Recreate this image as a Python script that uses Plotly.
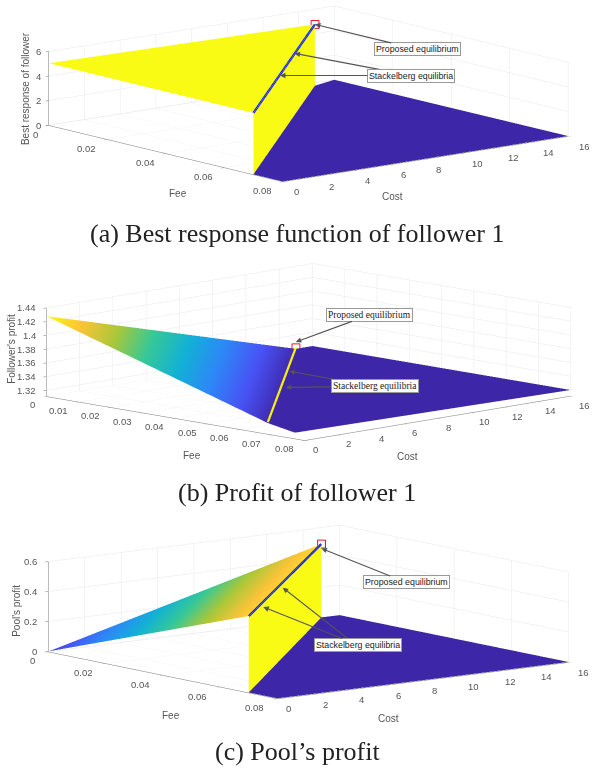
import math
import plotly.graph_objects as go

W, H = 603, 768

PARULA = [[0.0, "rgb(62,38,168)"], [1/7, "rgb(72,82,244)"], [2/7, "rgb(46,135,247)"],
          [3/7, "rgb(18,177,214)"], [4/7, "rgb(55,200,151)"], [5/7, "rgb(171,199,57)"],
          [6/7, "rgb(254,195,56)"], [1.0, "rgb(249,251,21)"]]

# (a) best response
a_fee_ticks = [0, 0.02, 0.04, 0.06, 0.08]
a_fee_text = ["0", "0.02", "0.04", "0.06", "0.08"]
cost_ticks = [0, 2, 4, 6, 8, 10, 12, 14, 16]
cost_text = ["0", "2", "4", "6", "8", "10", "12", "14", "16"]
a_z_ticks = [0, 2, 4, 6]
a_z_text = ["0", "2", "4", "6"]
a_plane_fee = [0, 0.07, 0.0025]
a_plane_cost = [0, 0, 14.5]
a_plane_z = [5.04, 5.0, 5.0]
a_plane_c = [1, 1, 1]
a_floor_fee = [0.07, 0.08, 0.08, 0, 0.0025]
a_floor_cost = [0, 0, 16, 16, 14.5]
a_line_fee = [0.07, 0.0025]
a_line_cost = [0, 14.5]
a_line_z = [5.0, 5.0]

# (b) follower profit
b_fee_ticks = [0, 0.01, 0.02, 0.03, 0.04, 0.05, 0.06, 0.07, 0.08]
b_fee_text = ["0", "0.01", "0.02", "0.03", "0.04", "0.05", "0.06", "0.07", "0.08"]
b_z_ticks = [1.32, 1.34, 1.36, 1.38, 1.4, 1.42, 1.44]
b_z_text = ["1.32", "1.34", "1.36", "1.38", "1.4", "1.42", "1.44"]
b_plane_fee = [0, 0.064, 0]
b_plane_cost = [0, 0.9, 15]
b_plane_z = [1.428, 1.32, 1.32]
b_plane_c = [1, 0.02, 0.02]
b_floor_fee = [0.064, 0.077, 0.08, 0, 0]
b_floor_cost = [0.9, 0, 16, 16, 15]
b_floor_z = [1.32, 1.32, 1.32, 1.32, 1.32]
b_line_fee = [0.064, 0]
b_line_cost = [0.9, 15]
b_line_z = [1.3215, 1.3215]

# (c) pool profit
c_fee_ticks = [0, 0.02, 0.04, 0.06, 0.08]
c_z_ticks = [0, 0.2, 0.4, 0.6]
c_z_text = ["0", "0.2", "0.4", "0.6"]
c_plane_fee = [0, 0.07, 0]
c_plane_cost = [0, 0, 15]
c_plane_z = [0, 0.51, 0.49]
c_plane_c = [0.08, 0.9, 0.92]
c_floor_fee = [0.07, 0.08, 0.08, 0, 0]
c_floor_cost = [0, 0, 16, 16, 15]
c_line_fee = [0.07, 0]
c_line_cost = [0, 15]
c_line_z = [0.51, 0.49]


def eye(az, el, r):
    a, e = math.radians(az), math.radians(el)
    return dict(x=r*math.cos(a)*math.cos(e), y=r*math.sin(a)*math.cos(e), z=r*math.sin(e))


def mesh(scene, x, y, z, c, i, j, k):
    return go.Mesh3d(scene=scene, x=x, y=y, z=z, i=i, j=j, k=k, intensity=c, cmin=0, cmax=1,
                     colorscale=PARULA, showscale=False, flatshading=False, hoverinfo="skip",
                     lighting=dict(ambient=1, diffuse=0, specular=0, fresnel=0, roughness=1))


def line(scene, x, y, z, color):
    return go.Scatter3d(scene=scene, x=x, y=y, z=z, mode="lines", line=dict(color=color, width=4.5),
                        hoverinfo="skip", showlegend=False)


def marker(scene, x, y, z):
    return go.Scatter3d(scene=scene, x=[x], y=[y], z=[z], mode="markers", showlegend=False,
                        hoverinfo="skip",
                        marker=dict(symbol="square-open", size=3.5, color="#f01030",
                                    line=dict(color="#f01030", width=2)))


fig = go.Figure()
FAN3 = ([0], [1], [2])

# panel a
fig.add_trace(mesh("scene", a_floor_fee, a_floor_cost, [0]*5, [0]*5, [0, 0, 0], [1, 2, 3], [2, 3, 4]))
fig.add_trace(mesh("scene", a_plane_fee, a_plane_cost, a_plane_z, a_plane_c, *FAN3))
fig.add_trace(mesh("scene", [a_line_fee[0], a_line_fee[1], a_line_fee[1], a_line_fee[0]],
                   [a_line_cost[0], a_line_cost[1], a_line_cost[1], a_line_cost[0]],
                   [0, 0, a_line_z[1], a_line_z[0]], [1]*4, [0, 0], [1, 2], [2, 3]))
fig.add_trace(line("scene", a_line_fee, a_line_cost, a_line_z, "#1020ff"))
fig.add_trace(marker("scene", 0.0025, 14.5, 5.0))

# panel b
fig.add_trace(mesh("scene2", b_floor_fee, b_floor_cost, b_floor_z, [0]*5, [0, 0, 0], [1, 2, 3], [2, 3, 4]))
fig.add_trace(mesh("scene2", b_plane_fee, b_plane_cost, b_plane_z, b_plane_c, *FAN3))
fig.add_trace(line("scene2", b_line_fee, b_line_cost, b_line_z, "#f5ee10"))
fig.add_trace(marker("scene2", 0, 15, 1.3215))

# panel c
fig.add_trace(mesh("scene3", c_floor_fee, c_floor_cost, [0]*5, [0]*5, [0, 0, 0], [1, 2, 3], [2, 3, 4]))
fig.add_trace(mesh("scene3", c_plane_fee, c_plane_cost, c_plane_z, c_plane_c, *FAN3))
fig.add_trace(mesh("scene3", [c_line_fee[0], c_line_fee[1], c_line_fee[1], c_line_fee[0]],
                   [c_line_cost[0], c_line_cost[1], c_line_cost[1], c_line_cost[0]],
                   [0, 0, c_line_z[1], c_line_z[0]], [1]*4, [0, 0], [1, 2], [2, 3]))
fig.add_trace(line("scene3", c_line_fee, c_line_cost, c_line_z, "#1020ff"))
fig.add_trace(marker("scene3", 0, 15, 0.49))


def axis(vals, text, rng):
    return dict(title=dict(text=""), range=rng, tickvals=vals, ticktext=text, showticklabels=False,
                showbackground=False, gridcolor="#e8e8e8", gridwidth=1, showline=True,
                linecolor="#777777", linewidth=1, zeroline=False, showspikes=False,
                ticks="outside", ticklen=4, tickcolor="#777777", autorange=False)


def arrow(x, y, z, text, ax, ay, boxed=True, font="Liberation Sans", size=8.8):
    d = dict(x=x, y=y, z=z, text=text, ax=ax, ay=ay, showarrow=True, arrowhead=2, arrowsize=1,
             arrowwidth=1.1, arrowcolor="#555555", standoff=0,
             font=dict(family=font, size=size, color="#222222"))
    if boxed:
        d.update(bgcolor="white", bordercolor="#999999", borderwidth=1, borderpad=1)
    return d


def label(x, y, z, text, dx, dy, anchor="center", angle=0, size=9.5):
    return dict(x=x, y=y, z=z, text=text, showarrow=False, xanchor=anchor, yanchor="middle",
                xshift=dx, yshift=-dy, textangle=angle,
                font=dict(family="Liberation Sans", size=size, color="#555555"))


def tick_labels(fee_vals, fee_text, z_vals, z_text, zmin, fee_dx, fee_dy, cost_dx, cost_dy, z_dx):
    out = [label(v, 0, zmin, t, fee_dx, fee_dy, "right") for v, t in zip(fee_vals, fee_text)]
    out += [label(0.08, v, zmin, t, cost_dx, cost_dy, "left") for v, t in zip(cost_ticks, cost_text)]
    out += [label(0, 0, v, t, z_dx, 0, "right") for v, t in zip(z_vals, z_text)]
    return out


def dom(y0, y1):
    return dict(x=[14 / W, 1], y=[1 - y1 / H, 1 - y0 / H])


R = 10
SERIF = "Liberation Serif"

scene_a = dict(
    domain=dom(0, 222), aspectmode="manual", aspectratio=dict(x=3.34, y=3.315, z=0.68),
    camera=dict(eye=eye(-39.1, 10.4, R), center=dict(x=0, y=0, z=-0.157), up=dict(x=0, y=0, z=1),
                projection=dict(type="orthographic")),
    xaxis=axis(a_fee_ticks, a_fee_text, [0, 0.08]),
    yaxis=axis(cost_ticks, cost_text, [0, 16]),
    zaxis=axis(a_z_ticks, a_z_text, [-0.03, 6]),
    annotations=tick_labels(a_fee_ticks, a_fee_text, a_z_ticks, a_z_text, -0.03, -9, 9, 9, 10, -6) + [
        label(0.04, 0, -0.03, "Fee", 12, 40, size=10),
        label(0.08, 8, -0.03, "Cost", -33, 37, size=10),
        label(0, 0, 3, "Best response of follower", -24, 0, angle=-90, size=10),
        arrow(0.023, 10, 4.85, " ", 116, 22, False),
        arrow(0.04, 6.4, 4.85, "Stackelberg equilibria", 131, 0),
        arrow(0.0025, 14.5, 5.0, "Proposed equilibrium", 103, 25),
    ])
scene_b = dict(
    domain=dom(232, 472), aspectmode="manual", aspectratio=dict(x=3.06, y=3.12, z=0.75),
    camera=dict(eye=eye(-44.7, 9.7, R), up=dict(x=0, y=0, z=1), projection=dict(type="orthographic")),
    xaxis=axis(b_fee_ticks, b_fee_text, [0, 0.08]),
    yaxis=axis(cost_ticks, cost_text, [0, 16]),
    zaxis=axis(b_z_ticks, b_z_text, [1.311, 1.44]),
    annotations=tick_labels(b_fee_ticks, b_fee_text, b_z_ticks, b_z_text, 1.311, -9, 8, 6, 9, -8) + [
        label(0.04, 0, 1.311, "Fee", 17, 37, size=10),
        label(0.08, 8, 1.311, "Cost", -30, 38, size=10),
        label(0, 0, 1.375, "Follower's profit", -35, -4, angle=-90, size=10),
        arrow(0.0196, 10.8, 1.32, " ", 83, 15, False),
        arrow(0.034, 7.8, 1.32, "Stackelberg equilibria", 89, -1, True, SERIF, 9.5),
        arrow(0, 15, 1.33, "Proposed equilibrium", 74, -27, True, SERIF, 9.5),
    ])
scene_c = dict(
    domain=dom(490, 734), aspectmode="manual", aspectratio=dict(x=3.05, y=3.03, z=0.75),
    camera=dict(eye=eye(-38, 9.2, R), up=dict(x=0, y=0, z=1), projection=dict(type="orthographic")),
    xaxis=axis(c_fee_ticks, a_fee_text, [0, 0.08]),
    yaxis=axis(cost_ticks, cost_text, [0, 16]),
    zaxis=axis(c_z_ticks, c_z_text, [-0.003, 0.6]),
    annotations=tick_labels(c_fee_ticks, a_fee_text, c_z_ticks, c_z_text, -0.003, -11, 9, 7, 10, -9) + [
        label(0.04, 0, -0.003, "Fee", 8, 40, size=10),
        label(0.08, 8, -0.003, "Cost", -35, 38, size=10),
        label(0, 0, 0.3, "Pool's profit", -32, 4, angle=-90, size=10),
        arrow(0.038, 6.9, 0.47, " ", 75, 59, False),
        arrow(0.056, 3, 0.47, "Stackelberg equilibria", 95, 38),
        arrow(0, 15, 0.46, "Proposed equilibrium", 85, 34),
    ])

captions = [("(a) Best response function of follower 1", 233),
            ("(b) Profit of follower 1", 492),
            ("(c) Pool\u2019s profit", 751)]

fig.update_layout(
    width=W, height=H, margin=dict(l=0, r=0, t=0, b=0), paper_bgcolor="white", showlegend=False,
    scene=scene_a, scene2=scene_b, scene3=scene_c,
    annotations=[dict(text=t, x=297 / W, y=1 - y / H, xref="paper", yref="paper", showarrow=False,
                      xanchor="center", yanchor="middle",
                      font=dict(family="Liberation Serif", size=26, color="#222222"))
                 for t, y in captions])

fig.write_html("out.html", config=dict(displayModeBar=False),
               post_script="document.body.style.margin='0';")
